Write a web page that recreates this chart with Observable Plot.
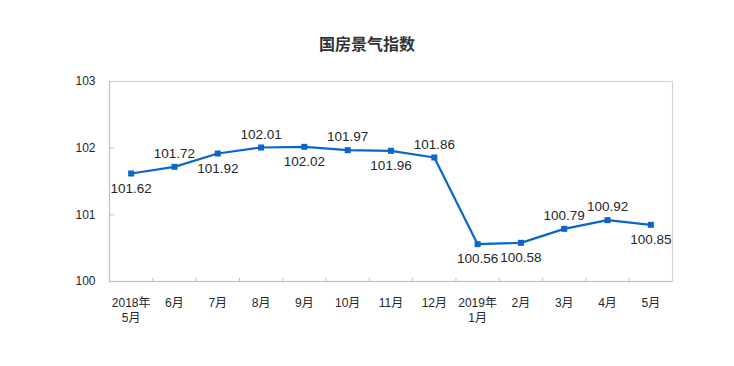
<!DOCTYPE html>
<html>
<head>
<meta charset="utf-8">
<script src="https://cdn.jsdelivr.net/npm/d3@7"></script>
<script src="https://cdn.jsdelivr.net/npm/@observablehq/plot@0.6"></script>
<style>
  html, body { margin: 0; padding: 0; background: #fff; }
  #wrap { position: relative; width: 734px; height: 366px; }
  #title { position: absolute; left: 0; top: 32px; width: 734px; text-align: center;
           font: bold 16px "Noto Sans CJK SC", sans-serif; color: #333; line-height: 22px; }
</style>
</head>
<body>
<div id="wrap">
  <div id="title">国房景气指数</div>
  <div id="chart"></div>
</div>
<script>
// Data
const months = ["2018年\n5月", "6月", "7月", "8月", "9月", "10月", "11月", "12月", "2019年\n1月", "2月", "3月", "4月", "5月"];
const values = [101.62, 101.72, 101.92, 102.01, 102.02, 101.97, 101.96, 101.86, 100.56, 100.58, 100.79, 100.92, 100.85];
const labelSide = ["below", "above", "below", "above", "below", "above", "below", "above", "below", "below", "above", "above", "below"];
const yTicks = [100, 101, 102, 103];

const data = values.map((v, i) => ({i, month: months[i], value: v, side: labelSide[i]}));
const seps = d3.range(months.length - 1).map(i => i + 0.5);

const W = 734, H = 366, mL = 109, mR = 62, mT = 81, mB = 85;
const frameW = W - mL - mR, frameH = H - mT - mB;
const blue = "#0a66c8";
const font = "'Liberation Sans', 'Noto Sans CJK SC', sans-serif";

const chart = Plot.plot({
  width: W, height: H,
  marginLeft: mL, marginRight: mR, marginTop: mT, marginBottom: mB,
  style: {fontFamily: font, background: "transparent", overflow: "visible"},
  x: {domain: [-0.5, months.length - 0.5], axis: null},
  y: {domain: [100, 103], axis: null},
  marks: [
    Plot.frame({stroke: "#d4d4d4", strokeWidth: 1.2}),
    Plot.ruleX([-0.5], {stroke: "#bdbdbd"}),
    Plot.ruleY([100], {stroke: "#bdbdbd"}),
    // inward y ticks
    Plot.tickY(yTicks.slice(1, -1), {y: d => d, stroke: "#bdbdbd", insetRight: frameW - 5}),
    // category separators on the bottom
    Plot.tickX(seps, {x: d => d, stroke: "#bdbdbd", insetTop: frameH - 3}),
    // y tick labels
    Plot.text(yTicks, {y: d => d, frameAnchor: "left", text: d => String(d), textAnchor: "end",
      dx: -14, fontSize: 12, fill: "#262626"}),
    // x labels
    Plot.text(data, {x: "i", frameAnchor: "bottom", text: "month", lineAnchor: "top",
      dy: 14, fontSize: 12, lineHeight: 1.3, fill: "#262626"}),
    // line + markers
    Plot.line(data, {x: "i", y: "value", stroke: blue, strokeWidth: 2.2}),
    Plot.dot(data, {x: "i", y: "value", symbol: "square", r: 3.4, fill: blue}),
    // value labels
    Plot.text(data.filter(d => d.side === "above"), {x: "i", y: "value", text: d => d.value.toFixed(2),
      dy: -13, fontSize: 13.5, fill: "#262626"}),
    Plot.text(data.filter(d => d.side === "below"), {x: "i", y: "value", text: d => d.value.toFixed(2),
      dy: 15, fontSize: 13.5, fill: "#262626"})
  ]
});
document.getElementById("chart").appendChild(chart);
</script>
</body>
</html>
